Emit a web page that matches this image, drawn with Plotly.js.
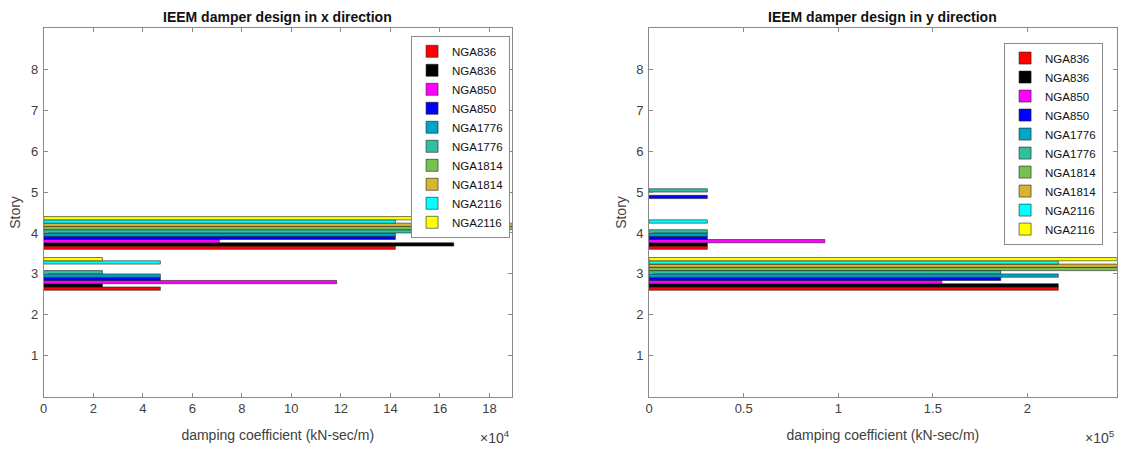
<!DOCTYPE html>
<html>
<head>
<meta charset="utf-8">
<script src="https://cdn.plot.ly/plotly-3.0.1.min.js"></script>
<style>html,body{margin:0;padding:0;background:#fff;}#chart{width:1121px;height:453px;}</style>
</head>
<body>
<div id="chart"></div>
<script>
// ---- data ----
const stories = [1, 2, 3, 4, 5, 6, 7, 8];
const seriesNames = ['NGA836', 'NGA836', 'NGA850', 'NGA850', 'NGA1776', 'NGA1776', 'NGA1814', 'NGA1814', 'NGA2116', 'NGA2116'];
const seriesColors = ['#ff0000', '#000000', '#ff00ff', '#0000ff', '#00a6c8', '#33bf9f', '#77c150', '#d7b52f', '#00ffff', '#ffff00'];

// x direction damping coefficient (kN-sec/m), stories 1..8
const xRed      = [0, 0, 47100, 142000, 0, 0, 0, 0];
const xBlack    = [0, 0, 23700, 165600, 0, 0, 0, 0];
const xMagenta  = [0, 0, 118300, 70900, 0, 0, 0, 0];
const xBlue     = [0, 0, 47100, 142000, 0, 0, 0, 0];
const xTeal     = [0, 0, 47100, 142000, 0, 0, 0, 0];
const xSea      = [0, 0, 23700, 165600, 0, 0, 0, 0];
const xGreen    = [0, 0, 0, 189000, 0, 0, 0, 0];
const xOlive    = [0, 0, 0, 189000, 0, 0, 0, 0];
const xCyan     = [0, 0, 47100, 142000, 0, 0, 0, 0];
const xYellow   = [0, 0, 23700, 165600, 0, 0, 0, 0];

// y direction damping coefficient (kN-sec/m), stories 1..8
const yRed      = [0, 0, 216300, 30800, 0, 0, 0, 0];
const yBlack    = [0, 0, 216300, 30800, 0, 0, 0, 0];
const yMagenta  = [0, 0, 154700, 92900, 0, 0, 0, 0];
const yBlue     = [0, 0, 185900, 30800, 30800, 0, 0, 0];
const yTeal     = [0, 0, 216300, 30800, 0, 0, 0, 0];
const ySea      = [0, 0, 185900, 30800, 30800, 0, 0, 0];
const yGreen    = [0, 0, 247200, 0, 0, 0, 0, 0];
const yOlive    = [0, 0, 247200, 0, 0, 0, 0, 0];
const yCyan     = [0, 0, 216300, 30800, 0, 0, 0, 0];
const yYellow   = [0, 0, 247200, 0, 0, 0, 0, 0];

const xTickVals = [0, 20000, 40000, 60000, 80000, 100000, 120000, 140000, 160000, 180000];
const xTickText = ['0', '2', '4', '6', '8', '10', '12', '14', '16', '18'];
const yTickVals = [0, 50000, 100000, 150000, 200000];
const yTickText = ['0', '0.5', '1', '1.5', '2'];
const storyTickText = ['1', '2', '3', '4', '5', '6', '7', '8'];

const xSeries = [xRed, xBlack, xMagenta, xBlue, xTeal, xSea, xGreen, xOlive, xCyan, xYellow];
const ySeries = [yRed, yBlack, yMagenta, yBlue, yTeal, ySea, yGreen, yOlive, yCyan, yYellow];

// zero-length bars are not drawn (as in the reference)
const noZero = vals => vals.map(v => (v === 0 ? null : v));

// ---- traces ----
const traces = [];
xSeries.forEach((vals, i) => {
  traces.push({
    type: 'bar', orientation: 'h', x: noZero(vals), y: stories, name: seriesNames[i],
    xaxis: 'x', yaxis: 'y', legend: 'legend',
    marker: {color: seriesColors[i], line: {color: '#222', width: 0.6}},
    hoverinfo: 'x+y+name'
  });
});
ySeries.forEach((vals, i) => {
  traces.push({
    type: 'bar', orientation: 'h', x: noZero(vals), y: stories, name: seriesNames[i],
    xaxis: 'x2', yaxis: 'y2', legend: 'legend2',
    marker: {color: seriesColors[i], line: {color: '#222', width: 0.6}},
    hoverinfo: 'x+y+name'
  });
});

const FONT = 'Liberation Sans, Arial, Helvetica, sans-serif';
const axisLine = '#8a8a8a';
const tickFont = {family: FONT, size: 13, color: '#404040'};

function xAx(domain, range, vals, text, anchor) {
  return {
    domain: domain, range: range, anchor: anchor,
    tickvals: vals, ticktext: text, ticks: 'inside', ticklen: 4, tickcolor: axisLine,
    showline: true, linecolor: axisLine, linewidth: 1, mirror: 'ticks',
    showgrid: false, zeroline: false, tickfont: tickFont, fixedrange: true,
    title: {text: 'damping coefficient (kN-sec/m)', font: {family: FONT, size: 14, color: '#404040'}, standoff: 14}
  };
}
function yAx(anchor) {
  return {
    domain: [0.1243, 0.9375], range: [0, 9], anchor: anchor,
    tickvals: stories, ticktext: storyTickText, ticks: 'inside', ticklen: 4, tickcolor: axisLine,
    showline: true, linecolor: axisLine, linewidth: 1, mirror: 'ticks',
    showgrid: false, zeroline: false, tickfont: tickFont, fixedrange: true,
    ticklabelstandoff: 2,
    title: {text: 'Story', font: {family: FONT, size: 14, color: '#404040'}, standoff: 6}
  };
}

function legendCfg(xr, yt) {
  return {
    x: xr, y: yt, xanchor: 'right', yanchor: 'top', xref: 'paper', yref: 'paper',
    bgcolor: '#ffffff', bordercolor: '#8a8a8a', borderwidth: 1,
    font: {family: FONT, size: 11.5, color: '#111'}, traceorder: 'normal', tracegroupgap: 0,
    itemwidth: 30
  };
}

const layout = {
  width: 1121, height: 453,
  margin: {l: 0, r: 0, t: 0, b: 0},
  paper_bgcolor: '#ffffff', plot_bgcolor: '#ffffff',
  barmode: 'group', bargap: 0.2, bargroupgap: 0,
  font: {family: FONT},
  xaxis: xAx([0.0390, 0.4565], [0, 189000], xTickVals, xTickText, 'y'),
  yaxis: yAx('x'),
  xaxis2: xAx([0.5790, 0.9962], [0, 247200], yTickVals, yTickText, 'y2'),
  yaxis2: yAx('x2'),
  legend: legendCfg(0.455, 0.921),
  legend2: legendCfg(0.984, 0.906),
  annotations: [
    {text: '<b>IEEM damper design in x direction</b>', xref: 'paper', yref: 'paper', x: 0.2478, y: 0.962, xanchor: 'center', yanchor: 'middle', showarrow: false, font: {family: FONT, size: 14, color: '#111'}},
    {text: '<b>IEEM damper design in y direction</b>', xref: 'paper', yref: 'paper', x: 0.7876, y: 0.962, xanchor: 'center', yanchor: 'middle', showarrow: false, font: {family: FONT, size: 14, color: '#111'}},
    {text: '×10<sup>4</sup>', xref: 'paper', yref: 'paper', x: 0.4565, y: 0.035, xanchor: 'right', yanchor: 'middle', showarrow: false, font: {family: FONT, size: 14, color: '#404040'}},
    {text: '×10<sup>5</sup>', xref: 'paper', yref: 'paper', x: 0.9962, y: 0.035, xanchor: 'right', yanchor: 'middle', showarrow: false, font: {family: FONT, size: 14, color: '#404040'}}
  ]
};

Plotly.newPlot('chart', traces, layout, {displayModeBar: false, staticPlot: true});
</script>
</body>
</html>
